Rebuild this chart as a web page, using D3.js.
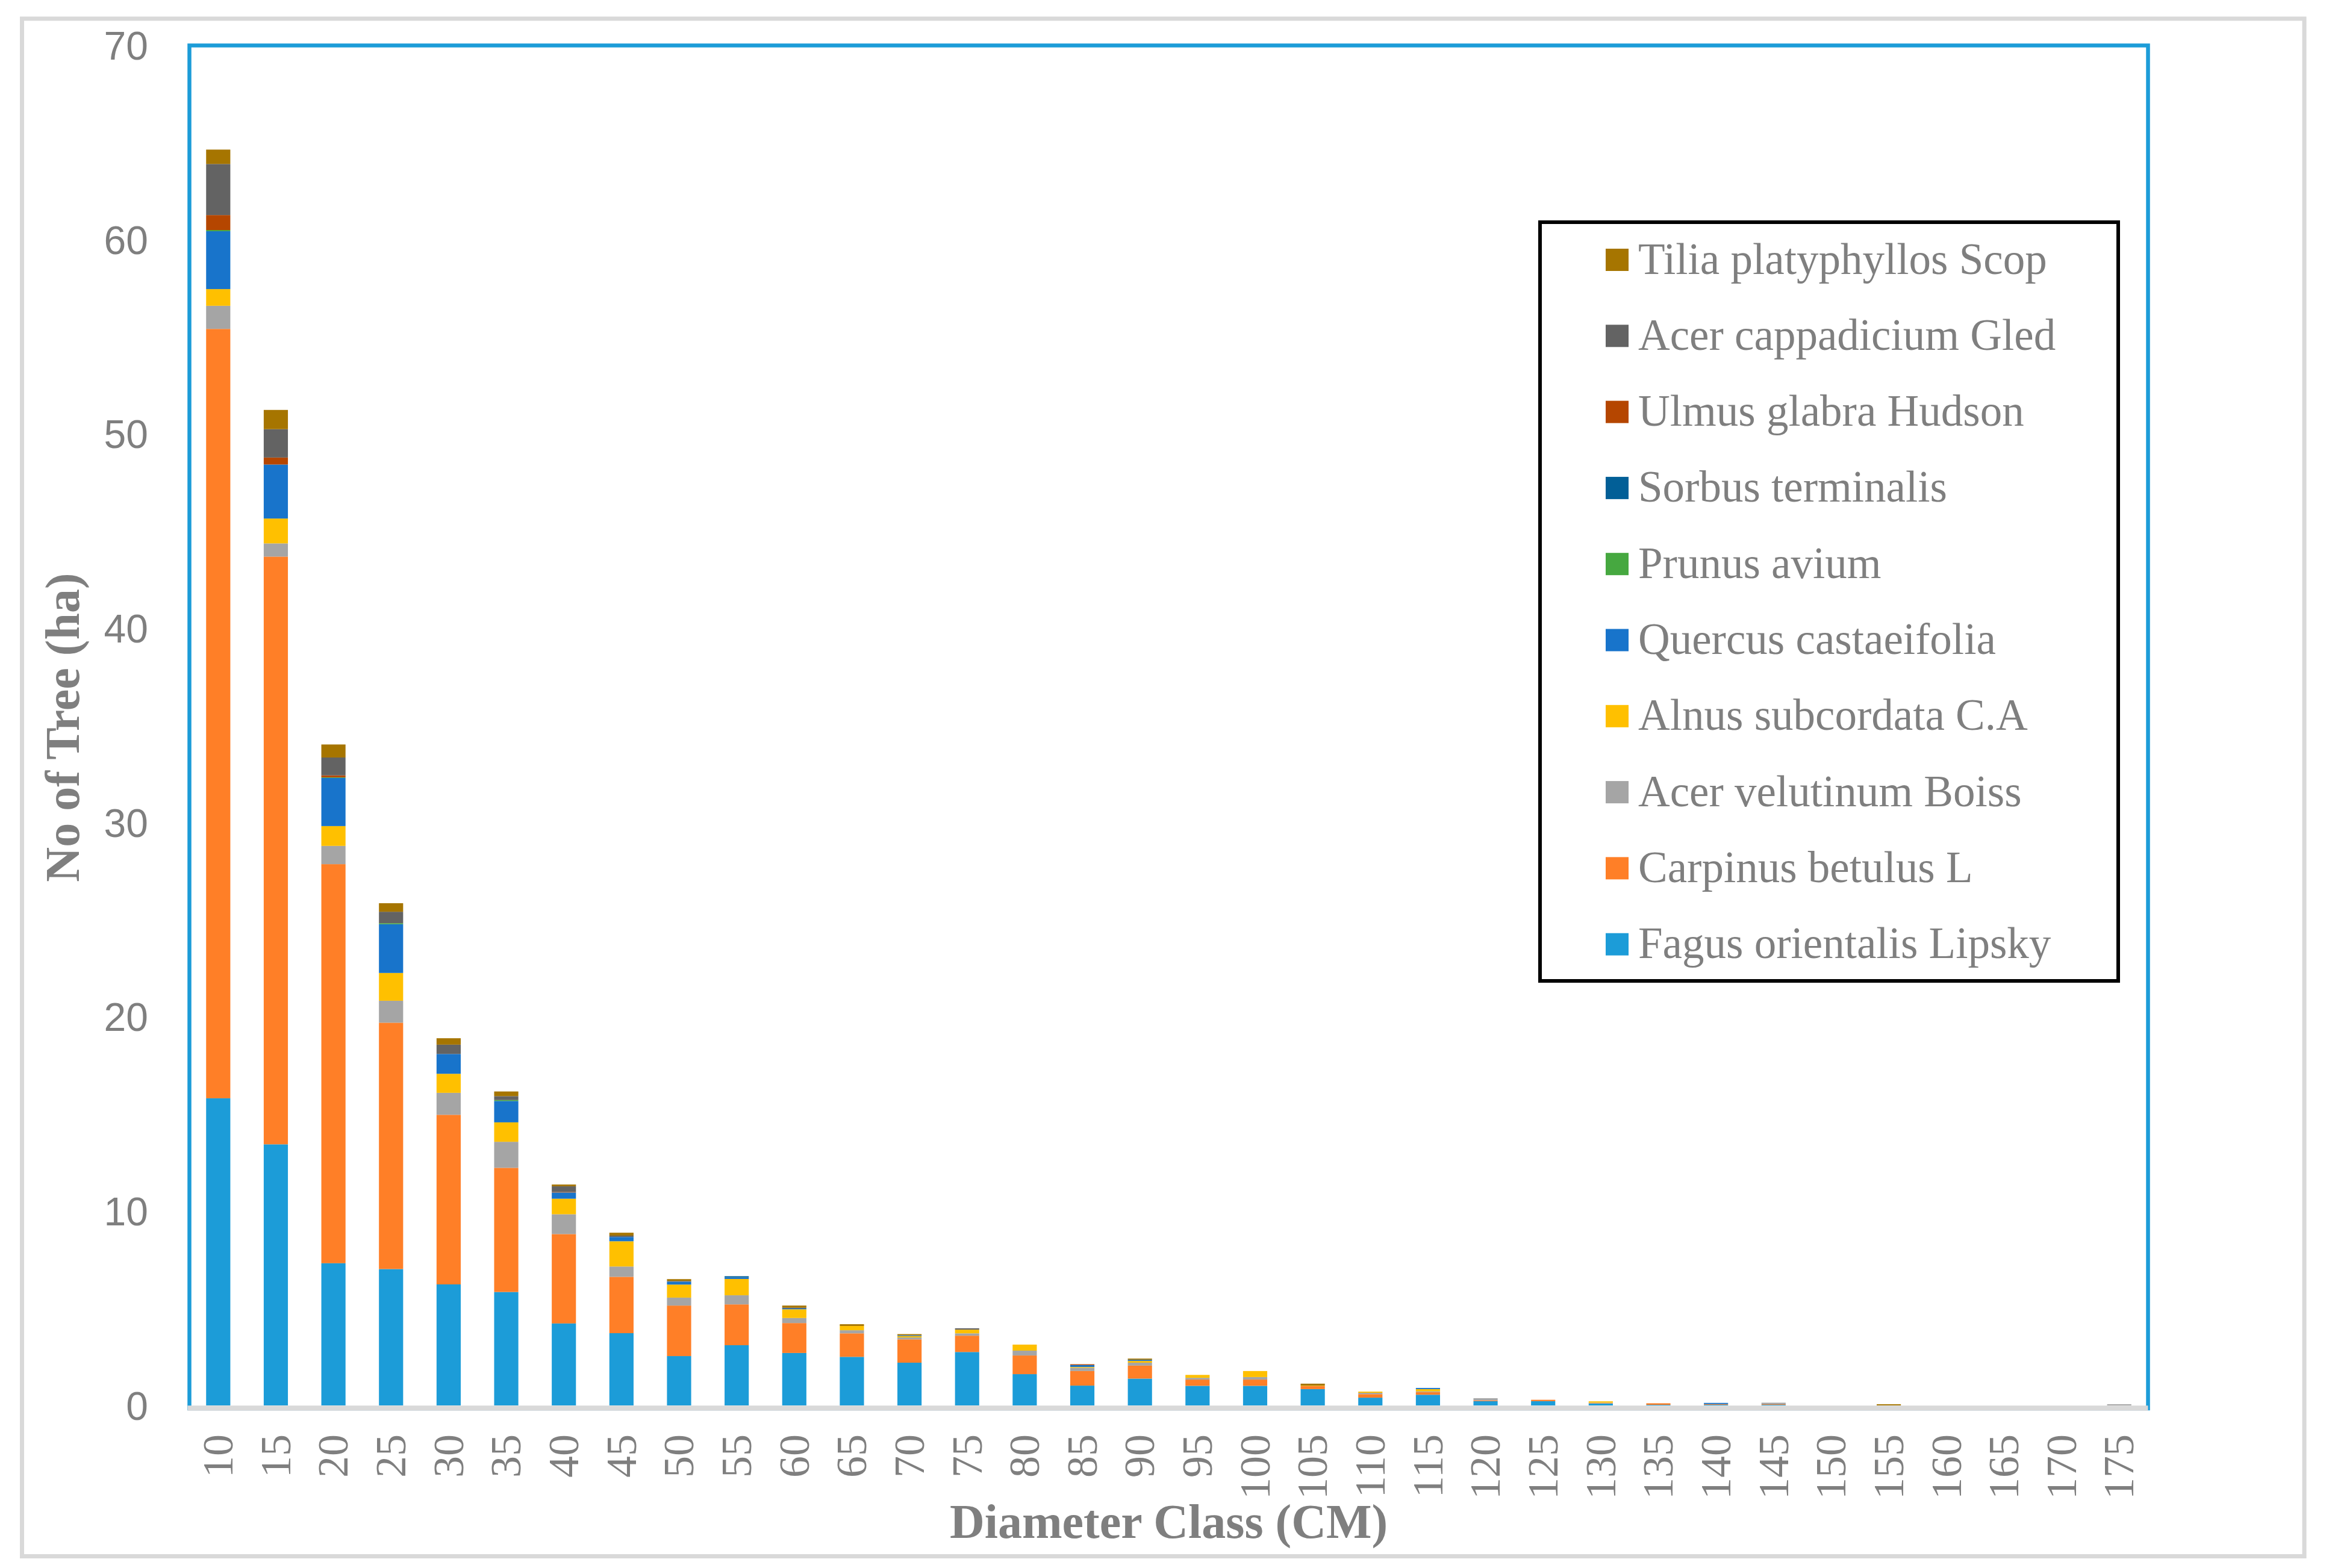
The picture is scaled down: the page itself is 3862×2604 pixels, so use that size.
<!DOCTYPE html>
<html>
<head>
<meta charset="utf-8">
<script src="https://cdn.jsdelivr.net/npm/d3@7/dist/d3.min.js"></script>
<style>
  html, body { margin: 0; padding: 0; background: #ffffff; }
  svg { display: block; }
</style>
</head>
<body>
<svg id="chart" width="3862" height="2604"></svg>
<script>
// ---------- DATA ----------
const classes = ["10","15","20","25","30","35","40","45","50","55","60","65","70","75","80","85","90","95","100","105","110","115","120","125","130","135","140","145","150","155","160","165","170","175"];

const species = ["Fagus orientalis Lipsky","Carpinus betulus L","Acer velutinum Boiss","Alnus subcordata C.A","Quercus castaeifolia","Prunus avium","Sorbus terminalis","Ulmus glabra Hudson","Acer cappadicium Gled","Tilia platyphyllos Scop"];

const colors = ["#1C9CD8","#FF7F27","#A5A5A5","#FFC000","#1874CB","#46A840","#025F97","#B54600","#636363","#A67500"];

const fagus    = [15.81,13.44,7.32,7.02,6.23,5.84,4.22,3.72,2.54,3.10,2.70,2.50,2.20,2.75,1.61,1.02,1.38,1.01,1.01,0.84,0.40,0.55,0.22,0.22,0.10,0.03,0.03,0.03,0,0,0,0,0,0];
const carpinus = [39.60,30.25,20.54,12.68,8.73,6.39,4.60,2.90,2.60,2.10,1.54,1.21,1.20,0.84,0.96,0.75,0.67,0.32,0.32,0.16,0.18,0.13,0.04,0.07,0.02,0.08,0.04,0.03,0,0,0,0,0,0];
const acerVel  = [1.19,0.68,0.94,1.13,1.13,1.34,1.02,0.53,0.41,0.47,0.26,0.16,0.10,0.12,0.25,0.17,0.15,0.09,0.13,0,0.07,0.04,0.11,0,0.02,0,0,0.08,0,0,0,0,0,0.06];
const alnus    = [0.86,1.28,1.02,1.43,0.98,1.00,0.80,1.30,0.67,0.84,0.45,0.22,0.07,0.19,0.31,0.04,0.09,0.15,0.31,0.02,0.06,0.12,0,0,0.07,0,0,0,0,0,0,0,0,0];
const quercus  = [2.98,2.78,2.48,2.51,1.02,1.10,0.32,0.22,0.15,0.08,0.04,0,0.04,0,0,0.10,0.06,0,0,0,0,0.06,0,0,0,0,0.06,0,0,0,0,0,0,0];
const prunus   = [0.06,0,0.03,0.05,0,0.05,0,0,0,0,0,0,0,0,0,0,0,0,0,0,0,0,0,0,0,0,0,0,0,0,0,0,0,0];
const sorbus   = [0,0,0,0,0,0,0,0,0,0.06,0,0,0,0,0,0,0,0,0,0,0,0,0,0,0,0,0,0,0,0,0,0,0,0];
const ulmus    = [0.77,0.36,0.10,0,0,0,0.03,0,0,0,0,0,0,0,0,0.04,0,0,0,0,0,0,0,0,0,0,0,0,0,0,0,0,0,0];
const acerCap  = [2.63,1.46,0.92,0.59,0.48,0.20,0.29,0.07,0.04,0,0.04,0,0,0.07,0,0,0,0,0,0,0,0,0,0,0,0,0,0,0,0,0,0,0,0];
const tilia    = [0.74,0.99,0.67,0.44,0.33,0.24,0.09,0.15,0.09,0,0.11,0.09,0.06,0,0,0,0.06,0,0,0.10,0,0,0,0,0,0,0,0,0,0.06,0,0,0,0];

const yTicks = [0,10,20,30,40,50,60,70];

// ---------- BUILD TABLE ----------
const seriesValues = [fagus, carpinus, acerVel, alnus, quercus, prunus, sorbus, ulmus, acerCap, tilia];
const table = classes.map((c, i) => {
  const row = { cls: c };
  species.forEach((s, k) => { row[s] = seriesValues[k][i]; });
  return row;
});

// ---------- LAYOUT ----------
const svg = d3.select("#chart");
const plot = { left: 314.5, right: 3566.5, top: 75.5, bottom: 2334 };
const grayText = "#7F7F7F";

// outer chart border
svg.append("rect")
  .attr("x", 36.5).attr("y", 31).attr("width", 3826 - 36.5).attr("height", 2584.5 - 31)
  .attr("fill", "#ffffff").attr("stroke", "#D9D9D9").attr("stroke-width", 7);

const x = d3.scaleBand().domain(classes).range([plot.left, plot.right])
  .paddingInner(0.58).paddingOuter(0.29);
const y = d3.scaleLinear().domain([0, 70]).range([plot.bottom, plot.top]);

// bars
const stacked = d3.stack().keys(species)(table);
const colorOf = d3.scaleOrdinal().domain(species).range(colors);

svg.append("g").selectAll("g")
  .data(stacked)
  .join("g")
  .attr("fill", d => colorOf(d.key))
  .selectAll("rect")
  .data(d => d.filter(p => p[1] - p[0] > 0))
  .join("rect")
  .attr("x", d => x(d.data.cls))
  .attr("width", x.bandwidth())
  .attr("y", d => y(d[1]))
  .attr("height", d => y(d[0]) - y(d[1]));

// plot area border (blue)
svg.append("rect")
  .attr("x", plot.left).attr("y", plot.top)
  .attr("width", plot.right - plot.left).attr("height", 2339 - plot.top)
  .attr("fill", "none").attr("stroke", "#1C9CD8").attr("stroke-width", 6.5);

// bottom axis line (gray)
svg.append("line")
  .attr("x1", plot.left - 3).attr("x2", plot.right)
  .attr("y1", 2338.5).attr("y2", 2338.5)
  .attr("stroke", "#D9D9D9").attr("stroke-width", 8.5);

// y axis labels
const yAxis = d3.axisLeft(y).tickValues(yTicks).tickSize(0).tickPadding(0);
const gy = svg.append("g").attr("transform", "translate(246,0)").call(yAxis);
gy.select(".domain").remove();
gy.selectAll("text")
  .attr("fill", grayText)
  .attr("font-family", "'Liberation Sans', Arial, sans-serif")
  .attr("font-size", 66)
  .attr("dy", "0.35em")
  .attr("x", 0);

// x axis labels (rotated)
const xAxis = d3.axisBottom(x).tickSize(0).tickPadding(0);
const gx = svg.append("g").attr("transform", "translate(0,2382)").call(xAxis);
gx.select(".domain").remove();
gx.selectAll("text")
  .attr("fill", grayText)
  .attr("font-family", "'Liberation Serif', 'Times New Roman', serif")
  .attr("font-size", 72)
  .attr("text-anchor", "end")
  .attr("transform", "rotate(-90)")
  .attr("x", 0)
  .attr("y", 0)
  .attr("dy", "0.33em");

// axis titles
svg.append("text")
  .attr("x", (plot.left + plot.right) / 2).attr("y", 2554)
  .attr("text-anchor", "middle")
  .attr("fill", grayText)
  .attr("font-family", "'Liberation Serif', 'Times New Roman', serif")
  .attr("font-weight", "bold")
  .attr("font-size", 80)
  .text("Diameter Class (CM)");

svg.append("text")
  .attr("transform", "translate(131,1208) rotate(-90)")
  .attr("text-anchor", "middle")
  .attr("fill", grayText)
  .attr("font-family", "'Liberation Serif', 'Times New Roman', serif")
  .attr("font-weight", "bold")
  .attr("font-size", 80)
  .text("No of Tree (ha)");

// legend
const legend = svg.append("g");
legend.append("rect")
  .attr("x", 2557).attr("y", 369).attr("width", 960).attr("height", 1260)
  .attr("fill", "#ffffff").attr("stroke", "#000000").attr("stroke-width", 6);

const legendOrder = species.slice().reverse();
const ly = d3.scalePoint().domain(legendOrder).range([431.5, 1568.2]);
const items = legend.selectAll("g.item").data(legendOrder).join("g").attr("class", "item");
items.append("rect")
  .attr("x", 2666).attr("y", d => ly(d) - 18.5)
  .attr("width", 38).attr("height", 37)
  .attr("fill", d => colorOf(d));
items.append("text")
  .attr("x", 2720).attr("y", d => ly(d) + 23)
  .attr("fill", grayText)
  .attr("font-family", "'Liberation Serif', 'Times New Roman', serif")
  .attr("font-size", 73)
  .text(d => d);
</script>
</body>
</html>
